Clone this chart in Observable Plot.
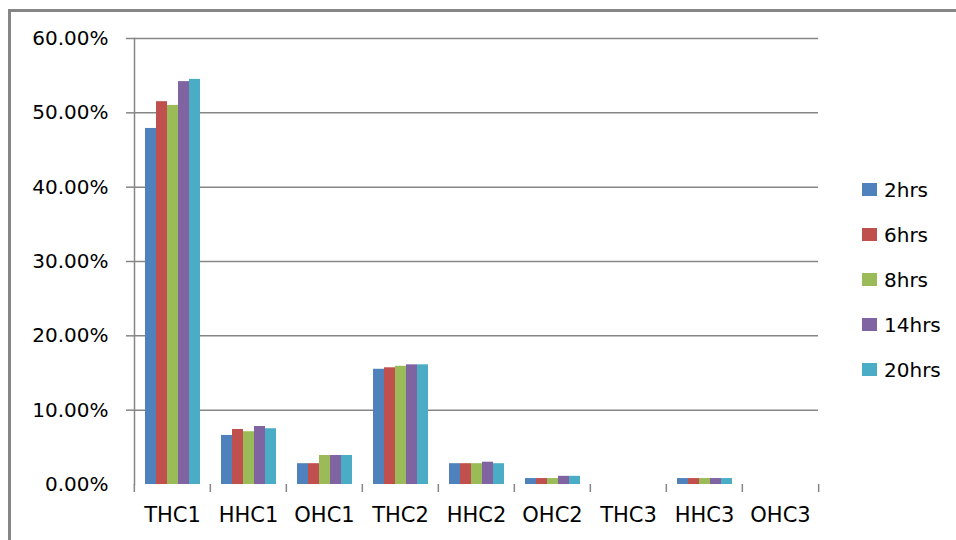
<!DOCTYPE html>
<html>
<head>
<meta charset="utf-8">
<script src="https://cdn.jsdelivr.net/npm/d3@7"></script>
<script src="https://cdn.jsdelivr.net/npm/@observablehq/plot@0.6"></script>
<style>
  html, body { margin: 0; padding: 0; background: #fff; overflow: hidden; }
  #wrap { position: relative; width: 956px; height: 540px; font-family: "DejaVu Sans", sans-serif; }
  #border { position: absolute; left: 8px; top: 9px; width: 1200px; height: 1200px;
            border-left: 3px solid #868686; border-top: 3px solid #868686; pointer-events: none; }
  #legend { position: absolute; left: 862px; top: 167px; }
  .item { height: 45px; display: flex; align-items: center; font-size: 20px; color: #000; }
  .sw { width: 15px; height: 13px; margin-right: 7px; }
  svg { position: absolute; left: 0; top: 0; }
</style>
</head>
<body>
<div id="wrap"><div id="border"></div><div id="legend"></div></div>
<script>
const categories = ["THC1", "HHC1", "OHC1", "THC2", "HHC2", "OHC2", "THC3", "HHC3", "OHC3"];
const series = ["2hrs", "6hrs", "8hrs", "14hrs", "20hrs"];
const colors = ["#4F81BD", "#C0504D", "#9BBB59", "#8064A2", "#4BACC6"];
const hrs2  = [0.479, 0.066, 0.028, 0.155, 0.028, 0.008, 0, 0.008, 0];
const hrs6  = [0.515, 0.074, 0.028, 0.157, 0.028, 0.008, 0, 0.008, 0];
const hrs8  = [0.510, 0.071, 0.039, 0.159, 0.028, 0.008, 0, 0.008, 0];
const hrs14 = [0.542, 0.078, 0.039, 0.161, 0.030, 0.011, 0, 0.008, 0];
const hrs20 = [0.545, 0.075, 0.039, 0.161, 0.028, 0.011, 0, 0.008, 0];
const yTickLabels = [0, 0.1, 0.2, 0.3, 0.4, 0.5, 0.6];
const yGridTicks = [0.1, 0.2, 0.3, 0.4, 0.5, 0.6];

const seriesValues = [hrs2, hrs6, hrs8, hrs14, hrs20];
const table = categories.flatMap((c, i) =>
  series.map((s, j) => ({category: c, series: s, value: seriesValues[j][i]})));

const W = 956, H = 540, ML = 132, MR = 137, MT = 38, MB = 56;
const step = (W - ML - MR) / categories.length;
const grey = "#868686";

const chart = Plot.plot({
  width: W, height: H,
  marginLeft: ML, marginRight: MR, marginTop: MT, marginBottom: MB,
  style: {fontFamily: "DejaVu Sans, sans-serif", background: "transparent", color: "#000"},
  fx: {domain: categories, padding: 0, axis: null, label: null},
  x: {domain: series, paddingInner: 0, paddingOuter: 0.734, axis: null},
  y: {domain: [0, 0.6], axis: null},
  color: {domain: series, range: colors},
  marks: [
    Plot.gridY({ticks: yGridTicks, stroke: grey, strokeOpacity: 1, strokeWidth: 1.5}),
    Plot.barY(table, {fx: "category", x: "series", y: "value", fill: "series"}),
    Plot.axisY({ticks: yGridTicks, tickFormat: () => "", tickSize: 8, stroke: grey, strokeWidth: 1.5, label: null}),
    Plot.axisY({ticks: yTickLabels, tickFormat: d3.format(".2%"), tickSize: 0, tickPadding: 26,
                fontSize: 20, label: null}),
    Plot.frame({anchor: "left", facetAnchor: "left", stroke: grey, strokeWidth: 1.5}),
    Plot.axisFx({anchor: "bottom", tickSize: 0, tickPadding: 23, fontSize: 21, label: null}),
    Plot.axisFx({anchor: "bottom", tickSize: 8, tickFormat: () => "", label: null,
                 stroke: grey, strokeWidth: 1.5, dx: -step / 2}),
    Plot.axisFx({anchor: "bottom", ticks: [categories[categories.length - 1]], tickSize: 8,
                 tickFormat: () => "", label: null, stroke: grey, strokeWidth: 1.5, dx: step / 2})
  ]
});
document.getElementById("wrap").appendChild(chart);

const legend = document.getElementById("legend");
series.forEach((s, i) => {
  const item = document.createElement("div");
  item.className = "item";
  const sw = document.createElement("div");
  sw.className = "sw";
  sw.style.background = colors[i];
  const t = document.createElement("span");
  t.textContent = s;
  item.appendChild(sw);
  item.appendChild(t);
  legend.appendChild(item);
});
</script>
</body>
</html>
